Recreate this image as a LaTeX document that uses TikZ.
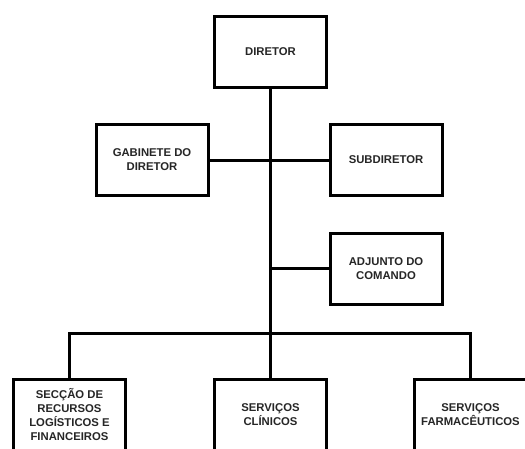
\documentclass[tikz,border=0pt]{standalone}
\usepackage{fontspec}
\setmainfont{Liberation Sans}
\begin{document}
\begin{tikzpicture}[x=1pt,y=-1pt,
  orgbox/.style={draw=black, line width=3pt, fill=white, minimum width=112pt, minimum height=71pt,
    inner sep=0pt, align=center, font=\fontsize{11.3}{14}\selectfont\bfseries, text=black!85},
  link/.style={draw=black, line width=3pt}]
\useasboundingbox (0,0) rectangle (525,448);
\clip (0,0) rectangle (525,448);
\fill[white] (0,0) rectangle (525,448);
\coordinate (bus) at (270.5,333);
% connectors
\node[orgbox] (dir) at (270.5,52) {DIRETOR};
\node[orgbox] (gab) at (152,160) {GABINETE DO\\DIRETOR};
\node[orgbox] (sub) at (386,160) {SUBDIRETOR};
\node[orgbox] (adj) at (386,268.5) {ADJUNTO DO\\COMANDO};
\node[orgbox] (sec) at (69.5,415) {SECÇÃO DE\\RECURSOS\\LOGÍSTICOS E\\FINANCEIROS};
\node[orgbox] (cli) at (270.5,415) {SERVIÇOS\\CLÍNICOS};
\node[orgbox] (far) at (470.5,415) {SERVIÇOS\\FARMACÊUTICOS};
\begin{scope}[on background layer/.try]
\end{scope}
\path[link] (dir.south) -- (cli.north);
\path[link] (gab.east) -- (sub.west);
\path[link] (adj.west) -- (dir.south |- adj.west);
\path[link] (sec.north) |- (bus) -| (far.north);
\end{tikzpicture}
\end{document}
